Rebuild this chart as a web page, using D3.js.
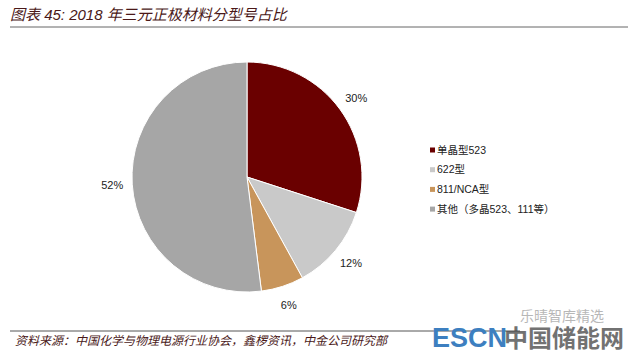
<!DOCTYPE html>
<html lang="zh">
<head>
    <meta charset="UTF-8">
    <title>2018年三元正极材料分型号占比</title>
    <script src="https://cdn.jsdelivr.net/npm/d3@7"></script>
    <style>
        body { margin: 0; background: #fff; }
        text { font-family: "Liberation Sans", Arial, "Noto Sans CJK SC", sans-serif; }
    </style>
</head>
<body>
<script>
    // 数据
    var categories = ["单晶型523", "622型", "811/NCA型", "其他（多晶523、111等）"];
    var shares = [30, 12, 6, 52];
    var colors = ["#6a0000", "#c9c9c9", "#c8955b", "#a6a6a6"];

    var width = 640, height = 354;
    var svg = d3.select("body").append("svg")
        .attr("width", width)
        .attr("height", height);

    // 标题
    svg.append("text")
        .attr("x", 10).attr("y", 20)
        .attr("font-size", "15px")
        .attr("font-style", "italic")
        .attr("fill", "#4a1818")
        .text("图表 45: 2018 年三元正极材料分型号占比");
    svg.append("line")
        .attr("x1", 10).attr("x2", 628)
        .attr("y1", 27).attr("y2", 27)
        .attr("stroke", "#666").attr("stroke-width", 1);

    // 饼图
    var cx = 247, cy = 177, r = 115;
    var pie = d3.pie().sort(null).value(function (d) { return d; });
    var arc = d3.arc().innerRadius(0).outerRadius(r);
    var labelArc = d3.arc().innerRadius(135).outerRadius(135);
    var arcs = pie(shares);

    var g = svg.append("g").attr("transform", "translate(" + cx + "," + cy + ")");
    g.selectAll("path")
        .data(arcs)
        .enter()
        .append("path")
        .attr("d", arc)
        .attr("fill", function (d, i) { return colors[i]; })
        .attr("stroke", "#fff")
        .attr("stroke-width", 1);

    g.selectAll(".lbl")
        .data(arcs)
        .enter()
        .append("text")
        .attr("class", "lbl")
        .attr("transform", function (d) { return "translate(" + labelArc.centroid(d) + ")"; })
        .attr("text-anchor", "middle")
        .attr("dy", "0.35em")
        .attr("font-size", "11px")
        .attr("fill", "#222")
        .text(function (d) { return d.data + "%"; });

    // 图例
    var legend = svg.append("g").attr("transform", "translate(430,150)");
    var rows = legend.selectAll("g")
        .data(categories)
        .enter()
        .append("g")
        .attr("transform", function (d, i) { return "translate(0," + (i * 19.7) + ")"; });
    rows.append("rect")
        .attr("x", 0).attr("y", -2.5)
        .attr("width", 5).attr("height", 5)
        .attr("fill", function (d, i) { return colors[i]; });
    rows.append("text")
        .attr("x", 7).attr("dy", "0.36em")
        .attr("font-size", "10.5px")
        .attr("fill", "#222")
        .text(function (d) { return d; });

    // 资料来源
    svg.append("line")
        .attr("x1", 10).attr("x2", 520)
        .attr("y1", 331).attr("y2", 331)
        .attr("stroke", "#555").attr("stroke-width", 1);
    svg.append("text")
        .attr("x", 15).attr("y", 345)
        .attr("font-size", "12px")
        .attr("font-style", "italic")
        .attr("fill", "#4a1818")
        .text("资料来源：中国化学与物理电源行业协会，鑫椤资讯，中金公司研究部");

    // 水印
    svg.append("text")
        .attr("x", 432).attr("y", 347)
        .attr("font-size", "27px")
        .attr("font-weight", "bold")
        .attr("fill", "#3d7fc0")
        .text("ESCN");
    svg.append("text")
        .attr("x", 504).attr("y", 347)
        .attr("font-size", "24px")
        .attr("font-weight", "bold")
        .attr("fill", "#444")
        .attr("opacity", 0.75)
        .text("中国储能网");
    svg.append("text")
        .attr("x", 520).attr("y", 321)
        .attr("font-size", "14px")
        .attr("fill", "#888")
        .attr("opacity", 0.6)
        .text("乐晴智库精选");
</script>
</body>
</html>
